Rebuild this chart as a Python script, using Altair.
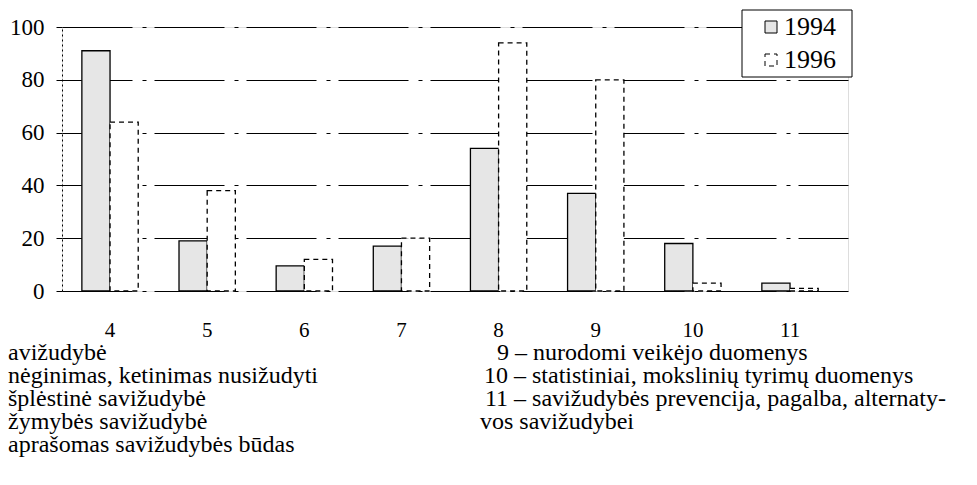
import altair as alt
import pandas as pd

categories = ["4", "5", "6", "7", "8", "9", "10", "11"]
years = ["1994", "1996"]
values_1994 = [91, 19, 9.5, 17, 54, 37, 18, 3]
values_1996 = [64, 38, 12, 20, 94, 80, 3, 1]
y_ticks = [0, 20, 40, 60, 80, 100]

notes_left = [
    "avižudybė",
    "nėginimas, ketinimas nusižudyti",
    "šplėstinė savižudybė",
    "žymybės savižudybė",
    "aprašomas savižudybės būdas",
]
notes_right = [
    "9 – nurodomi veikėjo duomenys",
    "10 – statistiniai, mokslinių tyrimų duomenys",
    "11 – savižudybės prevencija, pagalba, alternaty-",
    "vos savižudybei",
]

FONT = "'Liberation Serif', 'Times New Roman', Times, serif"

df = pd.DataFrame({
    "cat": categories * 2,
    "year": [years[0]] * len(categories) + [years[1]] * len(categories),
    "value": values_1994 + values_1996,
})

bars = alt.Chart(df).mark_bar(stroke="black", strokeWidth=1.3).encode(
    x=alt.X(
        "cat:N", sort=categories,
        scale=alt.Scale(paddingInner=0.42, paddingOuter=0.2557, align=0.4),
        axis=alt.Axis(title=None, labelAngle=0, ticks=False, tickSize=0, domain=False,
                      grid=False, labelPadding=28, labelFontSize=21, labelFont=FONT,
                      labelColor="black"),
    ),
    xOffset=alt.XOffset("year:N", sort=years),
    y=alt.Y(
        "value:Q", scale=alt.Scale(domain=[0, 100]),
        axis=alt.Axis(title=None, values=y_ticks, grid=True, gridColor="black",
                      gridDash=[70, 10, 4, 8], gridWidth=1.2, gridOpacity=1,
                      domainColor="black", domainDash=[2, 3], tickColor="black",
                      tickSize=6, labelPadding=12, labelFontSize=23, labelFont=FONT,
                      labelColor="black"),
    ),
    fill=alt.Fill(
        "year:N", sort=years,
        scale=alt.Scale(domain=years, range=["#e6e6e6", "white"]),
        legend=alt.Legend(title=None, orient="none", legendX=696, legendY=-13,
                          symbolType="square", symbolSize=144, symbolStrokeColor="black",
                          symbolStrokeWidth=1, labelFontSize=26, labelFont=FONT,
                          labelColor="black", labelOffset=0, rowPadding=7, padding=0),
    ),
    strokeDash=alt.StrokeDash(
        "year:N", sort=years,
        scale=alt.Scale(domain=years, range=[[1, 0], [5, 4]]),
        legend=None,
    ),
)

box = alt.Chart(pd.DataFrame({"a": [0]})).mark_rect(
    fill="white", stroke="black", strokeWidth=1
).encode(x=alt.value(680), x2=alt.value(790), y=alt.value(-17), y2=alt.value(50))

texts = []
line_gap = 23
for i, t in enumerate(notes_left):
    texts.append(
        alt.Chart(pd.DataFrame({"t": [t]})).mark_text(
            align="left", baseline="alphabetic", fontSize=24, font=FONT, color="black"
        ).encode(x=alt.value(-54), y=alt.value(333 + line_gap * i), text="t:N")
    )
right_x = [435, 422, 423, 418]
for i, t in enumerate(notes_right):
    texts.append(
        alt.Chart(pd.DataFrame({"t": [t]})).mark_text(
            align="left", baseline="alphabetic", fontSize=24, font=FONT, color="black"
        ).encode(x=alt.value(right_x[i]), y=alt.value(333 + line_gap * i), text="t:N")
    )

chart = alt.layer(bars, box, *texts).properties(
    width=786, height=264,
    autosize=alt.AutoSizeParams(type="none"),
    padding={"left": 54, "top": 19, "right": 110, "bottom": 180},
).configure_view(strokeWidth=0).configure(font=FONT)

chart.save("out.html", embed_options={"renderer": "svg", "actions": False})
